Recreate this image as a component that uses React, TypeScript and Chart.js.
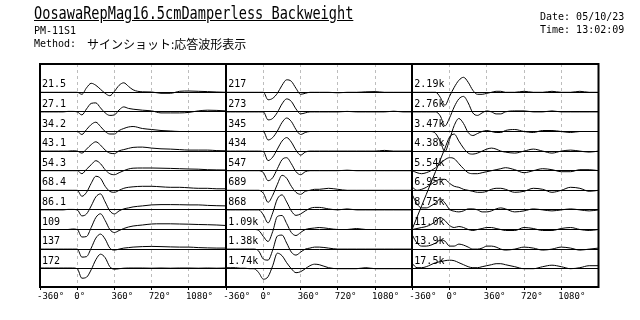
import React, { useEffect, useRef } from "react";
import { Chart, registerables } from "chart.js";
Chart.register(...registerables);

// Phase grid (degrees) shared by every trace
const DEGREES = [-360, -315, -270, -225, -180, -135, -90, -45, 0, 45, 90, 135, 180, 225, 270, 315, 360, 405, 450, 495, 540, 630, 720, 810, 900, 990, 1080, 1170, 1260, 1350, 1440];
const TICK_DEGREES = [-360, 0, 360, 720, 1080];

const LEFT_LABELS = ["21.5", "27.1", "34.2", "43.1", "54.3", "68.4", "86.1", "109", "137", "172"];
const MID_LABELS = ["217", "273", "345", "434", "547", "689", "868", "1.09k", "1.38k", "1.74k"];
const RIGHT_LABELS = ["2.19k", "2.76k", "3.47k", "4.38k", "5.54k", "6.95k", "8.75k", "11.0k", "13.9k", "17.5k"];

// Response amplitudes (px above each row's baseline) at DEGREES
const LEFT_TRACES = [
  [0, 0, 0, 0, 0, 0, 0, 0, 0, -2, 4.5, 9, 7, 3, -1, -3.4, 1, 7, 9.5, 6, 2.5, 0.5, 0.3, -1, -1, 1, 1.3, 1, 0.7, 0.3, 0],
  [0, 0, 0, 0, 0, 0, 0.5, 0.5, 0, -3, 3, 8.5, 9, 4, -1, -3.5, -3, 2, 5, 3.5, 2.7, 1.7, 1, -1, -1, -1, -0.5, 1, 1.7, 1.5, 1],
  [0, 0, 0, 0, 0, 0, 0, 0, 0, -3, 2, 7, 9.3, 5, 0, -2.5, -2.5, 1, 3, 4.5, 5, 3, 2, 1, 0.5, 0, 0, 0, 0, 0, 0],
  [0, 0, 0, 0, 0, 0, 0, 0.3, 0, -2, 2, 6.5, 9.3, 6, 1, -2, -2.5, 0.3, 1.5, 2.7, 3.7, 4, 3, 2.3, 2, 1.5, 1, 1, 1, 0.5, 0.3],
  [0, 0, 0, 0, 0, 0, 0, 0, 0, -3, 1.5, 6, 10, 7, 1, -3, -4, -2, 0, 1.7, 2.5, 2.7, 2.7, 2.5, 2.3, 2, 1.7, 1.5, 1, 0.8, 0.7],
  [0, 0, 0, 0, 0, 0, 0, 0, 0, -6, -2, 7, 14, 12, 4, -1, -2, 0, 2, 3, 3.5, 4, 4, 3.5, 3, 3, 2.5, 2, 2, 1.5, 1.5],
  [0, 0, 0, 0, 0, 0, 0.5, 0.5, 0, -6, -4, 4, 13, 16, 8, -1, -4, -1, 1, 2, 3, 4, 5, 5.3, 5.3, 5.2, 5, 5, 4.5, 4.2, 4],
  [0, 0, 0, 0, 0, 0, 0, 0.5, 0, -7.5, -7, 2, 12, 15.7, 9, 0, -3, -1, 1, 2.5, 3.5, 4.5, 5.5, 5.7, 5.7, 5.5, 5.3, 5, 4.8, 4.5, 4],
  [0, 0, 0, 0, 0, 0, 0, 0, 0, -8, -7.5, 1, 11, 15, 10, 1, -1, 0, 1, 1.5, 2, 2.5, 2.7, 2.5, 2.2, 2, 2, 1.5, 1.2, 1, 1],
  [0.7, 0.7, 0.7, 0.7, 0.7, 0.7, 0.7, 0.7, 0, -9.5, -8.5, -1, 9, 14.5, 11, 2, -0.5, 0, 0.5, 0.7, 0.7, 0.7, 0.5, 0.7, 0.5, 0.7, 0.7, 0.5, 0.7, 0.5, 0.7],
];

const MID_TRACES = [
  [0, 0, 0, 0, 0, 0, 0, 0, 0, -7.5, -6, -1, 7, 12.5, 11, 4, -2, -1, 0, 0, 0, 0, -0.5, 0, 0, 0.5, 0.7, 0, 0, 0, 0],
  [0, 0, 0, 0, 0, 0, 0, 0, 0, -8, -6.5, -0.5, 8, 13, 10.5, 3, -2, -1, 0, 0, 0, 0, 0, 0.5, 0, 0, 0, 0, 0.7, 0, 0],
  [0, 0, 0, 0, 0, 0, 0, 0, 0, -8.5, -6, 0.5, 9, 13.5, 10, 2, -3, -1, 0, 0, 0, 0, 0, 0, 0, 0, 0, 0, 0, 0, 0],
  [0, 0, 0, 0, 0, 0, 0, 0, -0.5, -9.5, -6, 2, 10, 13.5, 9, 1, -4, -1, 0, 0, 0, 0, 0, 0, 0, 0, 0, 0.7, 0, 0, 0],
  [0, 0, 0, 0, 0, 0, 0, 0, -2, -10, -7, 2, 11, 13, 7, -1, -4, -1, 0, 0, 0, 0, 0, 0.5, 0, 0, 0, 0, 0, 0, 0],
  [0, 0, 0, 0, 0, 0, 0, 0, -3, -12, -5, 6, 15, 12, 4, -2, -4, -1, 0, 1, 1, 2, 1, 0, 0, 0, 0, 0, 0, 0, 0],
  [0, 0, 0, 0, 0, 0, 0, 0, -5, -13, -3, 11, 15, 8, -1, -5.5, -4, -1, 1.5, 2.5, 2.5, 1, 0, 1, 0, 0, 0, 0, 0, 0, 0],
  [0, 0, 0, 0, 0, 0, 0, -1, -7, -12, -2, 13, 14, 6, -3, -6, -3, 0, 1, 1.5, 2, 1, 0, 0, 1, 0, 0, 0, 0, 0, 0],
  [0, 0, 0, 0, 0, 0, 0, -2, -10, -11, -1, 13, 14, 6, -3, -6, -3, 0, 1, 2, 2, 1, 0, 0, 0, 0, 0, 0, 0, 0, 0],
  [1, 1, 1, 0.5, 0.5, 0, 0, -4, -10.5, -8, 3, 15.5, 13, 6, 0, -4, -3, 0, 3, 4.5, 4, 1, 0, 0, 0, 1, 0, 0, 0, 0, 0],
];

const RIGHT_TRACES = [
  [0, 0, 0, 0, 0, 0, -5, -13, -4, 5, 12, 15, 10, 2, -2, -2, -1, 0, 1, 1, 0, 0, 1, 0, 0, 1, 0, 0, 1, 0, 0],
  [0, 0, 0, 0, 0, 0, -4, -14, -6, 5, 13, 15.5, 9, -1, -3.5, -1, 1, 0, -2, -2, 0, 1, 1, 0, 0, 1, 0, 0, 0, 0, 0],
  [0, 0, 0, 0, 0, -2, -10, -20, -8, 6, 13, 8, -1, -4, -2, 0, 1, 0, -1, -1, 1, 2, 0, -1, 1, 1, 0, -1, 0, 0, 0],
  [-77.7, -66.2, -54.7, -43.3, -31.8, -20.3, -8.8, 2.8, 14, 17, 10, 3, -2, -3, -2, 0, 2, 3, 2, 0, -1, -2, 0, 2, 0, -2, 0, 1, 0, -1, 0],
  [0, -2, -3, -2, 0, 3, 7, 11, 13, 12, 7, 2, -2, -3, -3, -2, -1, 0, 1, 2, 3, 1, -2, 0, 2, 1, -1, -1, 1, 1, 0],
  [3, 0, 1, 3, 6, 9, 11, 11, 7, 4, 3, 1, 0, -1, -2, -2, -1, 1, 2, 2, 1, -2, -1, 2, 1, -2, 0, 3, 2, -1, 0],
  [15, 6, 2, 2, 4, 7, 11, 7, 0.5, -1.3, -2, -1, 1, 1, 0, -2, -2, -1, 1, 2, 1, -2, -1, 1, 0, -1, 0, 1, 0, -1, 0],
  [0, 1, 2, 3, 5, 8, 12, 9, 4, 2, 3, 2, 0, -1, 0, 1, 2, 2, 1, 0, -1, -1, 2, 1, -1, -1, 1, 2, 0, -1, 0],
  [14, 6, 3, 3, 4, 6, 9, 8, 3, 3, 5, 4, 2, 0, 0, 1, 3, 3, 2, 0, -1, 0, 2, 1, -1, 0, 2, 1, -1, 0, 1],
  [5, 1, 1, 2, 4, 6, 7, 8, 8.5, 8, 6, 4, 2, 1, 1, 2, 3, 4, 5, 5, 4, 2, 0, 0, 2, 3.5, 2, 0, 1, 3, 3],
];

const PANELS = [
  { labels: LEFT_LABELS, traces: LEFT_TRACES },
  { labels: MID_LABELS, traces: MID_TRACES },
  { labels: RIGHT_LABELS, traces: RIGHT_TRACES },
];

// layout (px-based value axis: 1 unit = 1 px)
const PANEL_SPAN = 1800;
const Y_MIN = -223;
const TOP_GAP = 28.3;
const ROW_STEP = 19.6;
const baseline = (i: number) => -(TOP_GAP + ROW_STEP * i);
const MONO = '"DejaVu Sans Mono", monospace';

export default function App() {
  const ref = useRef<HTMLCanvasElement>(null);
  useEffect(() => {
    if (!ref.current) return;
    const datasets: any[] = [];
    PANELS.forEach((panel, p) => {
      panel.traces.forEach((trace, i) => {
        datasets.push({
          data: DEGREES.map((d, k) => ({ x: d + 360 + p * PANEL_SPAN, y: baseline(i) + trace[k] })),
          borderColor: "#000",
          borderWidth: 1,
          pointRadius: 0,
          cubicInterpolationMode: "monotone",
          fill: false,
        });
      });
    });
    const tickValues = PANELS.flatMap((_, p) => TICK_DEGREES.map((d) => d + 360 + p * PANEL_SPAN));
    const frame = {
      id: "frame",
      afterDraw(chart: any) {
        const { ctx, chartArea: a, scales } = chart;
        const x = scales.x, y = scales.y;
        ctx.save();
        ctx.strokeStyle = "#000";
        ctx.lineWidth = 2;
        ctx.strokeRect(a.left, a.top, a.right - a.left, a.bottom - a.top);
        [1, 2].forEach((p) => {
          const px = Math.round(x.getPixelForValue(p * PANEL_SPAN));
          ctx.beginPath();
          ctx.moveTo(px, a.top);
          ctx.lineTo(px, a.bottom);
          ctx.stroke();
        });
        ctx.font = `10px ${MONO}`;
        ctx.fillStyle = "#000";
        ctx.textBaseline = "alphabetic";
        PANELS.forEach((panel, p) => {
          const px = x.getPixelForValue(p * PANEL_SPAN) + 2;
          panel.labels.forEach((lab, i) => {
            ctx.fillText(lab, px, y.getPixelForValue(baseline(i)) - 5);
          });
        });
        ctx.restore();
      },
    };
    const chart = new Chart(ref.current, {
      type: "line",
      data: { datasets },
      plugins: [frame],
      options: {
        animation: false,
        responsive: false,
        events: [],
        layout: { padding: { left: 40, right: 41.5, top: 64, bottom: 0 } },
        plugins: { legend: { display: false }, tooltip: { enabled: false } },
        scales: {
          x: {
            type: "linear",
            min: 0,
            max: PANEL_SPAN * 3,
            afterBuildTicks: (s: any) => {
              s.ticks = tickValues.map((v) => ({ value: v }));
            },
            afterFit: (s: any) => {
              s.height = 33;
            },
            ticks: {
              autoSkip: false,
              maxRotation: 0,
              align: "start",
              labelOffset: -3,
              padding: 1,
              color: "#000",
              font: { family: MONO, size: 9 },
              callback: (_v: any, idx: number) => `${TICK_DEGREES[idx % TICK_DEGREES.length]}°`,
            },
            grid: {
              color: (c: any) => (c.tick && c.tick.value % PANEL_SPAN === 0 ? "rgba(0,0,0,0)" : "#bdbdbd"),
              tickColor: "#000",
              tickLength: 3,
              tickWidth: 1,
              lineWidth: 1,
            },
            border: { display: false, dash: [3, 3] },
          },
          y: {
            type: "linear",
            min: Y_MIN,
            max: 0,
            afterBuildTicks: (s: any) => {
              s.ticks = PANELS[0].labels.map((_, i) => ({ value: baseline(i) }));
            },
            afterFit: (s: any) => {
              s.width = 0;
            },
            ticks: { display: false },
            grid: { color: "#000", lineWidth: 1, drawTicks: false },
            border: { display: false },
          },
        },
      },
    });
    return () => chart.destroy();
  }, []);

  const small: React.CSSProperties = { position: "absolute", fontFamily: MONO, fontSize: 10, lineHeight: "12px", whiteSpace: "pre", color: "#000" };
  return (
    <div style={{ position: "fixed", left: 0, top: 0, width: 640, height: 320, background: "#fff", overflow: "hidden" }}>
      <canvas ref={ref} width={640} height={320} style={{ position: "absolute", left: 0, top: 0 }} />
      <div
        style={{
          position: "absolute",
          left: 34,
          top: 3,
          fontFamily: MONO,
          fontSize: 17,
          lineHeight: "20px",
          whiteSpace: "pre",
          textDecoration: "underline",
          transform: "scaleX(0.8)",
          transformOrigin: "0 0",
          color: "#000",
        }}
      >
        OosawaRepMag16.5cmDamperless Backweight
      </div>
      <div style={{ ...small, left: 34, top: 25 }}>PM-11S1</div>
      <div style={{ ...small, left: 34, top: 38 }}>Method:</div>
      <div style={{ ...small, left: 87, top: 37, fontFamily: '"Noto Sans CJK JP", sans-serif', fontSize: 12, lineHeight: "14px" }}>サインショット:応答波形表示</div>
      <div style={{ ...small, left: 540, top: 11 }}>Date: 05/10/23</div>
      <div style={{ ...small, left: 540, top: 24 }}>Time: 13:02:09</div>
    </div>
  );
}
